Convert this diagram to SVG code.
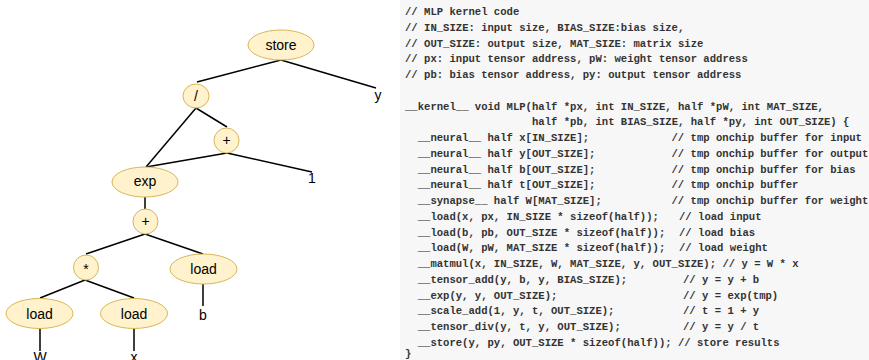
<svg xmlns="http://www.w3.org/2000/svg" width="869" height="360" viewBox="0 0 869 360">
<style>
.n{fill:#fff2cc;stroke:#d6b656;stroke-width:1}
.e{stroke:#000;stroke-width:1.5;fill:none}
.t{font-family:"Liberation Sans",Arial,Helvetica,sans-serif;font-size:14px;fill:#000;text-anchor:middle}
.c{font-family:"Liberation Mono","Courier New",monospace;font-size:10.58px;font-weight:bold;fill:#333;white-space:pre}
</style>
<rect x="400" y="0" width="469" height="360" fill="#f7f7f7"/>
<g id="connectors">
<line class="e" x1="281" y1="60" x2="197" y2="82"/>
<line class="e" x1="281" y1="60" x2="376" y2="88"/>
<line class="e" x1="196" y1="108" x2="146" y2="167"/>
<line class="e" x1="196" y1="108" x2="227" y2="127"/>
<line class="e" x1="227" y1="153" x2="146" y2="167"/>
<line class="e" x1="227" y1="153" x2="312" y2="172"/>
<line class="e" x1="145" y1="197" x2="145" y2="209"/>
<line class="e" x1="145" y1="234" x2="86" y2="254"/>
<line class="e" x1="145" y1="234" x2="203" y2="254"/>
<line class="e" x1="203" y1="284" x2="203" y2="306"/>
<line class="e" x1="85" y1="280" x2="40" y2="298"/>
<line class="e" x1="85" y1="280" x2="134" y2="298"/>
<line class="e" x1="40" y1="328" x2="40" y2="351"/>
<line class="e" x1="134" y1="328" x2="134" y2="351"/>
</g>
<g id="store"><ellipse class="n" cx="281" cy="45" rx="33" ry="15"/><text class="t" x="281" y="50">store</text></g>
<g id="div"><ellipse class="n" cx="196" cy="96" rx="13" ry="12"/><text class="t" x="196" y="101">/</text></g>
<g id="plus1"><ellipse class="n" cx="226.5" cy="140.5" rx="12.5" ry="12.5"/><text class="t" x="226.5" y="145">+</text></g>
<g id="exp"><ellipse class="n" cx="145" cy="182" rx="33" ry="15"/><text class="t" x="145" y="186">exp</text></g>
<g id="plus2"><ellipse class="n" cx="145.5" cy="221.5" rx="12.5" ry="12.5"/><text class="t" x="145.5" y="226">+</text></g>
<g id="mul"><ellipse class="n" cx="86" cy="267.5" rx="12.5" ry="12.5"/><text class="t" x="86" y="274">*</text></g>
<g id="loadb"><ellipse class="n" cx="203.5" cy="269" rx="33.5" ry="15"/><text class="t" x="203.5" y="274">load</text></g>
<g id="loadW"><ellipse class="n" cx="39.5" cy="313.5" rx="33.5" ry="15"/><text class="t" x="39.5" y="318.5">load</text></g>
<g id="loadx"><ellipse class="n" cx="134" cy="313.5" rx="33.5" ry="15"/><text class="t" x="134" y="318.5">load</text></g>
<g id="leaves">
<text class="t" x="378" y="100">y</text>
<text class="t" x="312" y="183">1</text>
<text class="t" x="203" y="320">b</text>
<text class="t" x="40" y="361.5">W</text>
<text class="t" x="134" y="361.5">x</text>
</g>
<g id="code">
<text class="c" x="405" y="15">// MLP kernel code</text>
<text class="c" x="405" y="30.75">// IN_SIZE: input size, BIAS_SIZE:bias size,</text>
<text class="c" x="405" y="46.5">// OUT_SIZE: output size, MAT_SIZE: matrix size</text>
<text class="c" x="405" y="62.25">// px: input tensor address, pW: weight tensor address</text>
<text class="c" x="405" y="78">// pb: bias tensor address, py: output tensor address</text>
<text class="c" x="405" y="109.5">__kernel__ void MLP(half *px, int IN_SIZE, half *pW, int MAT_SIZE,</text>
<text class="c" x="532" y="125.25">half *pb, int BIAS_SIZE, half *py, int OUT_SIZE) {</text>
<text class="c" x="417.7" y="141">__neural__ half x[IN_SIZE];<tspan x="671.5">// tmp onchip buffer for input</tspan></text>
<text class="c" x="417.7" y="156.75">__neural__ half y[OUT_SIZE];<tspan x="671.5">// tmp onchip buffer for output</tspan></text>
<text class="c" x="417.7" y="172.5">__neural__ half b[OUT_SIZE];<tspan x="671.5">// tmp onchip buffer for bias</tspan></text>
<text class="c" x="417.7" y="188.25">__neural__ half t[OUT_SIZE];<tspan x="671.5">// tmp onchip buffer</tspan></text>
<text class="c" x="417.7" y="204">__synapse__ half W[MAT_SIZE];<tspan x="671.5">// tmp onchip buffer for weight</tspan></text>
<text class="c" x="417.7" y="219.75">__load(x, px, IN_SIZE * sizeof(half));<tspan x="679">// load input</tspan></text>
<text class="c" x="417.7" y="235.5">__load(b, pb, OUT_SIZE * sizeof(half));<tspan x="679">// load bias</tspan></text>
<text class="c" x="417.7" y="251.25">__load(W, pW, MAT_SIZE * sizeof(half));<tspan x="679">// load weight</tspan></text>
<text class="c" x="417.7" y="267">__matmul(x, IN_SIZE, W, MAT_SIZE, y, OUT_SIZE); // y = W * x</text>
<text class="c" x="417.7" y="282.75">__tensor_add(y, b, y, BIAS_SIZE);<tspan x="683">// y = y + b</tspan></text>
<text class="c" x="417.7" y="298.5">__exp(y, y, OUT_SIZE);<tspan x="683">// y = exp(tmp)</tspan></text>
<text class="c" x="417.7" y="314.25">__scale_add(1, y, t, OUT_SIZE);<tspan x="683">// t = 1 + y</tspan></text>
<text class="c" x="417.7" y="330">__tensor_div(y, t, y, OUT_SIZE);<tspan x="683">// y = y / t</tspan></text>
<text class="c" x="417.7" y="345.75">__store(y, py, OUT_SIZE * sizeof(half)); // store results</text>
<text class="c" x="405" y="357">}</text>
</g>
</svg>
